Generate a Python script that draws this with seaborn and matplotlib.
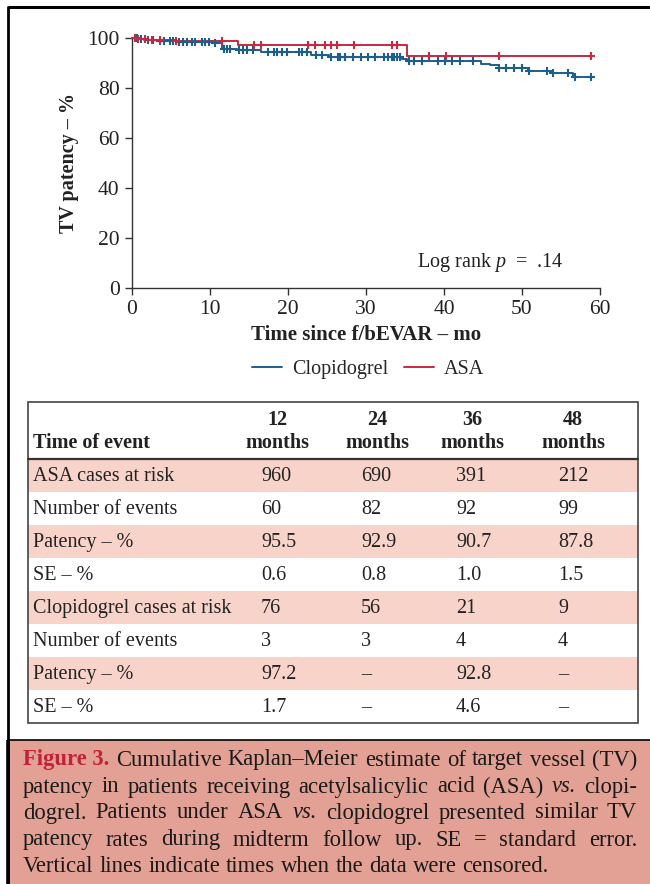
import numpy as np
import pandas as pd
import seaborn as sns
import matplotlib.pyplot as plt
from matplotlib.patches import Rectangle
from matplotlib.lines import Line2D

# Kaplan-Meier steps (time in months, patency in %)
clop_event_t = [0.8, 1.5, 3.5, 6.0, 10.5, 11.5, 13.5, 16.6, 23.0, 25.3, 34.6, 35.2, 44.8, 45.9, 47.0, 50.8, 53.8, 56.6]
clop_event_s = [99.6, 99.2, 98.9, 98.4, 98.0, 95.8, 95.2, 94.4, 93.3, 92.4, 91.6, 90.7, 89.7, 89.1, 87.9, 86.9, 85.9, 84.5]
clop_censor = [0.6, 1.2, 2.0, 2.7, 3.6, 4.1, 4.9, 5.3, 6.0, 6.5, 7.0, 7.7, 8.1, 9.0, 9.4, 9.9, 10.6,
               11.8, 12.2, 12.6, 13.7, 14.2, 14.8, 15.5, 17.4, 18.2, 18.6, 19.2, 19.9, 21.4, 21.8, 22.4,
               23.6, 24.3, 25.5, 26.4, 26.7, 27.3, 28.3, 29.3, 30.3, 31.2, 32.3, 32.8, 33.3, 33.6, 34.0,
               34.4, 35.5, 36.1, 37.2, 39.2, 40.1, 41.0, 42.0, 43.7, 47.1, 48.0, 49.0, 50.0, 50.9,
               53.2, 54.0, 55.9, 56.8, 58.8]

asa_event_t = [0.5, 2.0, 5.5, 13.6, 35.3]
asa_event_s = [99.5, 99.1, 98.8, 97.3, 92.8]
asa_censor = [0.4, 0.8, 1.7, 2.5, 3.6, 5.7, 11.6, 15.6, 16.5, 22.5, 23.5, 24.8, 25.5, 26.3, 28.4,
              33.3, 34.0, 38.1, 40.2, 47.1, 58.8]
t_end = 58.8

groups = ['Clopidogrel', 'ASA']
colors = {'Clopidogrel': '#1d5f8c', 'ASA': '#c62a40'}

# table below the chart
col_heads = ['12', '24', '36', '48']
row_labels = ['ASA cases at risk', 'Number of events', 'Patency – %', 'SE – %',
              'Clopidogrel cases at risk', 'Number of events', 'Patency – %', 'SE – %']
cells = [['960', '690', '391', '212'],
         ['60', '82', '92', '99'],
         ['95.5', '92.9', '90.7', '87.8'],
         ['0.6', '0.8', '1.0', '1.5'],
         ['76', '56', '21', '9'],
         ['3', '3', '4', '4'],
         ['97.2', '–', '92.8', '–'],
         ['1.7', '–', '4.6', '–']]

caption_lines = [
    ['Cumulative', 'Kaplan–Meier', 'estimate', 'of', 'target', 'vessel', '(TV)'],
    ['patency', 'in', 'patients', 'receiving', 'acetylsalicylic', 'acid', '(ASA)', '_vs.', 'clopi-'],
    ['dogrel.', 'Patients', 'under', 'ASA', '_vs.', 'clopidogrel', 'presented', 'similar', 'TV'],
    ['patency', 'rates', 'during', 'midterm', 'follow', 'up.', 'SE', '=', 'standard', 'error.'],
    ['Vertical', 'lines', 'indicate', 'times', 'when', 'the', 'data', 'were', 'censored.'],
]

sns.set_theme(style='ticks')
plt.rcParams['font.family'] = ['Liberation Serif', 'DejaVu Serif']
plt.rcParams['mathtext.fontset'] = 'custom'
plt.rcParams['mathtext.rm'] = 'Liberation Serif'
plt.rcParams['mathtext.it'] = 'Liberation Serif:italic'

fs = 14.5
tick_fs = 15.5
txt_col = '#222222'

fig = plt.figure(figsize=(6.5, 8.84), dpi=100)

# overlay in pixel coordinates for frame, table and caption
ov = fig.add_axes([0, 0, 1, 1], zorder=-1)
ov.set_xlim(0, 650)
ov.set_ylim(884, 0)
ov.axis('off')

ax = fig.add_axes([132 / 650, 1 - 288 / 884, 468 / 650, 250 / 884])


def km_frame(ev_t, ev_s):
    t = [0] + list(ev_t) + [t_end]
    s = [100] + list(ev_s) + [ev_s[-1]]
    return pd.DataFrame({'t': t, 's': s})


def surv_at(ev_t, ev_s, times):
    tt = np.array([0] + list(ev_t))
    ss = np.array([100] + list(ev_s))
    idx = np.searchsorted(tt, np.array(times), side='right') - 1
    return ss[idx]


for g, ev_t, ev_s, cens in [('Clopidogrel', clop_event_t, clop_event_s, clop_censor),
                            ('ASA', asa_event_t, asa_event_s, asa_censor)]:
    df = km_frame(ev_t, ev_s)
    sns.lineplot(data=df, x='t', y='s', drawstyle='steps-post', color=colors[g], lw=1.4,
                 estimator=None, sort=False, ax=ax, clip_on=False)
    sns.scatterplot(x=cens, y=surv_at(ev_t, ev_s, cens), marker='+', s=34, linewidth=1.5,
                    color=colors[g], ax=ax, clip_on=False, zorder=3)

ax.set_xlim(0, 60)
ax.set_ylim(0, 100)
ax.set_xticks(range(0, 61, 10))
ax.set_yticks(range(0, 101, 20))
ax.tick_params(length=5, width=1, labelsize=tick_fs, colors='#333333', labelcolor=txt_col, pad=4)
sns.despine(ax=ax)
for sp in ['left', 'bottom']:
    ax.spines[sp].set_color('#333333')
    ax.spines[sp].set_linewidth(1)
ax.set_xlabel('Time since f/bEVAR – mo', fontsize=15, fontweight='bold', color=txt_col, labelpad=4)
ax.set_ylabel('TV patency – %', fontsize=fs, fontweight='bold', color=txt_col, labelpad=6)
ax.text(36.5, 10, 'Log rank $p$  =  .14', fontsize=fs, color=txt_col, va='center', ha='left')

handles = [Line2D([], [], color=colors[g], lw=1.4) for g in groups]
fig.legend(handles, groups, loc='center', bbox_to_anchor=(368 / 650, 1 - 369 / 884), ncol=2,
           frameon=False, fontsize=fs, handlelength=1.5, handletextpad=0.5, columnspacing=0.75)

# outer frame
ov.plot([8, 650], [7, 7], color='black', lw=2.2, solid_capstyle='butt')
ov.plot([8, 8], [6, 884], color='black', lw=2.0, solid_capstyle='butt')

# table
tx0, tx1, ty0, thead, row_h = 28, 638, 402, 459, 33
for i, lab in enumerate(row_labels):
    yt = thead + i * row_h
    if i % 2 == 0:
        ov.add_patch(Rectangle((tx0, yt), tx1 - tx0, row_h, facecolor='#f8d3ca', edgecolor='none'))
    yc = yt + row_h / 2 + 1
    ov.text(33, yc, lab, fontsize=fs, color=txt_col, va='center', ha='left')
    for j, v in enumerate(cells[i]):
        ov.text([261, 361, 456, 558][j], yc, v, fontsize=fs, color=txt_col, va='center', ha='left')
ty1 = thead + len(row_labels) * row_h
ov.add_patch(Rectangle((tx0, ty0), tx1 - tx0, ty1 - ty0, facecolor='none', edgecolor='#444444', lw=1.2))
ov.plot([tx0, tx1], [thead, thead], color='#333333', lw=1.6)
ov.text(33, 443, 'Time of event', fontsize=fs, fontweight='bold', color=txt_col, va='center', ha='left')
for j, h in enumerate(col_heads):
    xc = [277, 377, 472, 573][j]
    ov.text(xc, 420, h, fontsize=fs, fontweight='bold', color=txt_col, va='center', ha='center')
    ov.text(xc, 443, 'months', fontsize=fs, fontweight='bold', color=txt_col, va='center', ha='center')

# caption box
ov.add_patch(Rectangle((8, 740), 642, 144, facecolor='#e3a195', edgecolor='none'))
ov.plot([8, 650], [740, 740], color='black', lw=1.2)
ov.plot([8, 8], [740, 884], color='black', lw=2.6, solid_capstyle='butt')

cap_fs = 16.3
cx0, cx1 = 23, 637
renderer = fig.canvas.get_renderer()
line_y = [760, 787, 813, 840, 866]
for k, words in enumerate(caption_lines):
    toks = []
    if k == 0:
        toks.append(ov.text(0, line_y[k], 'Figure 3.', fontsize=cap_fs, fontweight='bold',
                            color='#c0223a', va='center', ha='left'))
    for w in words:
        style = 'italic' if w.startswith('_') else 'normal'
        toks.append(ov.text(0, line_y[k], w.lstrip('_'), fontsize=cap_fs, style=style,
                            color='#1a1a1a', va='center', ha='left'))
    widths = [t.get_window_extent(renderer).width for t in toks]
    if k < len(caption_lines) - 1:
        gap = (cx1 - cx0 - sum(widths)) / (len(toks) - 1)
    else:
        gap = 0.26 * cap_fs * 100 / 72
    x = cx0
    for t, w in zip(toks, widths):
        t.set_x(x)
        x += w + gap

fig.savefig('out.png', dpi=100)
